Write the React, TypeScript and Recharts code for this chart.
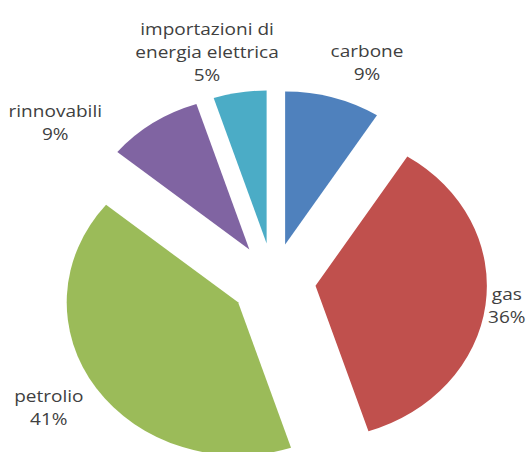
import React from 'react';
import { PieChart, Pie, Cell } from 'recharts';

// ---- data ----
const CATEGORIES = ['carbone', 'gas', 'petrolio', 'rinnovabili', 'importazioni di\nenergia elettrica'];
const VALUES = [9, 36, 41, 9, 5];
const COLORS = ['#4F81BD', '#C0504D', '#9BBB59', '#8064A2', '#4BACC6'];

// ---- layout / style (not data) ----
const LABEL_LAYOUT = [
  { dist: 196, shift: 5.7 },
  { dist: 172, shift: -0.5 },
  { dist: 199, shift: 2.3 },
  { dist: 215, shift: -19.5 },
  { dist: 199, shift: -6.5 },
];
const W = 474;
const H = 452;
const STRETCH = 1.12;
const CX = 244;
const CY = 281;
const R = 153;
const EXPLODE = 38;
const LINE_H = 23;
const FONT_SIZE = 17;
const TEXT_COLOR = '#404040';

const data = CATEGORIES.map((name, i) => ({ name, value: VALUES[i] }));
const total = VALUES.reduce((a, b) => a + b, 0);
const midCw: number[] = [];
{
  let cum = 0;
  VALUES.forEach((v) => {
    midCw.push(((cum + v / 2) / total) * 360);
    cum += v;
  });
}
const rad = (d: number) => (d * Math.PI) / 180;

function makeLabel(slice: number) {
  return (props: any) => {
    const { cx, cy, midAngle, index } = props;
    if (index !== slice) return <g />;
    const cw = 90 - midAngle;
    const lay = LABEL_LAYOUT[slice];
    const a = rad(cw + lay.shift);
    const x = cx + lay.dist * Math.sin(a);
    const y = cy - lay.dist * Math.cos(a);
    const lines = [...CATEGORIES[slice].split('\n'), `${VALUES[slice]}%`];
    const n = lines.length;
    return (
      <g>
        {lines.map((t, k) => (
          <text
            key={k}
            x={x}
            y={y + 6 + (k - (n - 1) / 2) * LINE_H}
            textAnchor="middle"
            fill={TEXT_COLOR}
            fontSize={FONT_SIZE}
            fontFamily="'Open Sans', sans-serif"
          >
            {t}
          </text>
        ))}
      </g>
    );
  };
}

export default function App() {
  return (
    <div
      style={{
        position: 'absolute',
        left: 0,
        top: 0,
        width: W,
        height: H,
        transform: `scaleX(${STRETCH})`,
        transformOrigin: '0 0',
        background: '#fff',
      }}
    >
      <PieChart width={W} height={H} margin={{ top: 0, right: 0, bottom: 0, left: 0 }}>
        {data.map((_, s) => (
          <Pie
            key={s}
            data={data}
            dataKey="value"
            nameKey="name"
            cx={CX + EXPLODE * Math.sin(rad(midCw[s]))}
            cy={CY - EXPLODE * Math.cos(rad(midCw[s]))}
            outerRadius={R}
            innerRadius={0}
            startAngle={90}
            endAngle={-270}
            stroke="none"
            isAnimationActive={false}
            labelLine={false}
            label={makeLabel(s)}
          >
            {data.map((__, i) => (
              <Cell key={i} fill={i === s ? COLORS[i] : 'none'} stroke="none" />
            ))}
          </Pie>
        ))}
      </PieChart>
    </div>
  );
}
